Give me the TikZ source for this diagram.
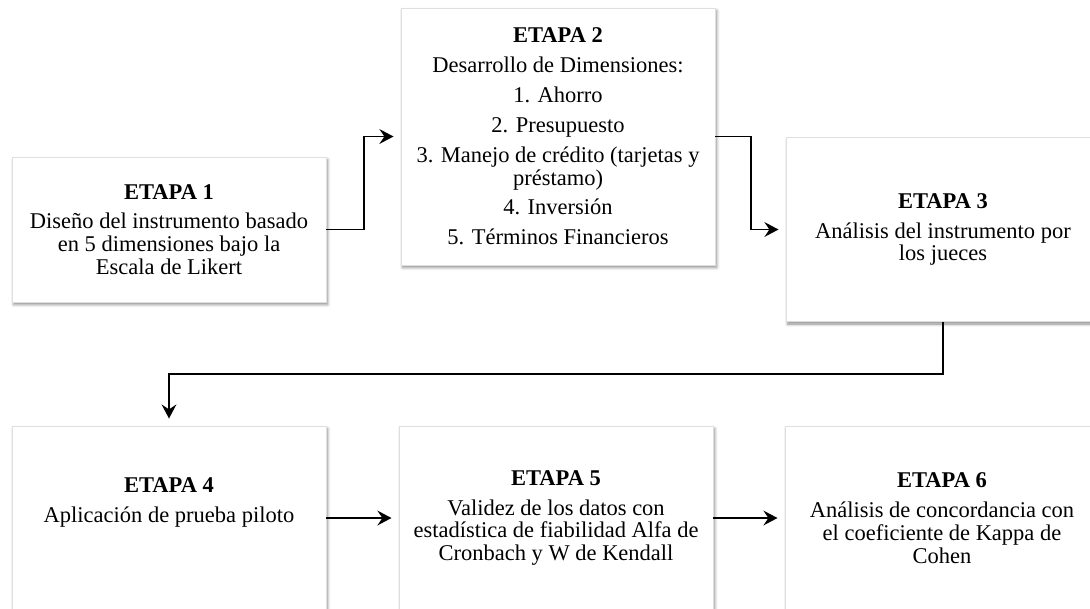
\documentclass[tikz,border=0pt]{standalone}
\usepackage{fontspec}
\setmainfont{Liberation Serif}
\usepackage{tikz}
\usetikzlibrary{arrows.meta}
\usetikzlibrary{shadows.blur}
\usetikzlibrary{positioning}

\begin{document}
\begin{tikzpicture}[x=0.025cm,y=-0.025cm,->,>={Stealth[length=10pt,width=10.5pt,inset=3.5pt]},shorten >=5pt,
    line width=1.4pt,
    stage box/.style={rectangle,draw=gray!25,line width=0.6pt,fill=white,minimum width=7.85cm,
      blur shadow={shadow xshift=1.2pt,shadow yshift=-1.8pt,shadow blur radius=2pt,shadow opacity=45}},
    stage text/.style={align=center,inner sep=0pt,font=\fontsize{16}{16.2}\selectfont}]
   \clip (0,0) rectangle (1090,608);
   \begin{scope}
     % top row
     \node[stage box,minimum height=3.625cm] (e1) at (169,229.5) {};
     \node[stage box,minimum height=6.425cm] (e2) at (558,136.5) {};
     \node[stage box,minimum height=4.6cm] (e3) at (943,229.5) {};
     % bottom row
     \node[stage box,minimum height=4.6cm] (e4) at (169,518) {};
     \node[stage box,minimum height=4.6cm] (e5) at (556,518) {};
     \node[stage box,minimum height=4.6cm] (e6) at (942,518) {};

     \node[stage text] (t1) at (e1) {\textbf{ETAPA 1}\\[5pt]Diseño del instrumento basado\\en 5 dimensiones bajo la\\Escala de Likert};
     \node[stage text] (t2) at (e2) {\textbf{ETAPA 2}\\[5pt]Desarrollo de Dimensiones:\\[5pt]1. Ahorro\\[5pt]2. Presupuesto\\[5pt]3. Manejo de crédito (tarjetas y\\préstamo)\\[5pt]4. Inversión\\[5pt]5. Términos Financieros};
     \node[stage text] (t3) at (e3) {\textbf{ETAPA 3}\\[5pt]Análisis del instrumento por\\los jueces};
     \node[stage text] (t4) at ([yshift=11pt]e4.center) {\textbf{ETAPA 4}\\[5pt]Aplicación de prueba piloto};
     \node[stage text] (t5) at (e5) {\textbf{ETAPA 5}\\[5pt]Validez de los datos con\\estadística de fiabilidad Alfa de\\Cronbach y W de Kendall};
     \node[stage text] (t6) at (e6) {\textbf{ETAPA 6}\\[5pt]Análisis de concordancia con\\el coeficiente de Kappa de\\Cohen};

     \draw (e1.east) -- ++(38,0) |- (e2.west);
     \draw (e2.east) -- ++(36,0) |- (e3.west);
     \draw (e3.south) -- ++(0,52) -| (e4.north);
     \path (e4.east) edge (e5.west);
     \path (e5.east) edge (e6.west);
   \end{scope}
\end{tikzpicture}
\end{document}
